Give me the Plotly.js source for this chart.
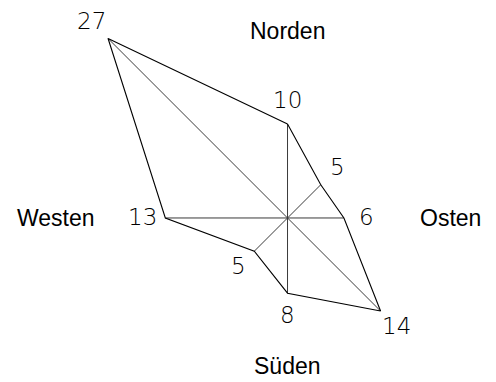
<!DOCTYPE html>
<html>
<head>
<meta charset="utf-8">
<script src="https://cdn.plot.ly/plotly-3.0.1.min.js"></script>
<style>
  html, body { margin: 0; padding: 0; background: #fff; }
  #myDiv { width: 496px; height: 382px; }
</style>
</head>
<body>
<div id="myDiv"></div>
<script>
// Wind directions, clockwise from north, and their counts
const directions = ['N', 'NO', 'O', 'SO', 'S', 'SW', 'W', 'NW'];
const angles = [0, 45, 90, 135, 180, 225, 270, 315];
const counts = [10, 5, 6, 14, 8, 5, 13, 27];

// Compass names drawn around the figure
const compassNames = ['Norden', 'Osten', 'Süden', 'Westen'];

// polar -> cartesian
const toXY = (r, deg) => {
    const a = deg * Math.PI / 180;
    return [r * Math.sin(a), r * Math.cos(a)];
};
const pts = counts.map((c, i) => toXY(c, angles[i]));

// spokes from the center to each point
const spokeX = [], spokeY = [];
pts.forEach(p => { spokeX.push(0, p[0], null); spokeY.push(0, p[1], null); });

const data = [
    {
        x: spokeX, y: spokeY,
        type: 'scatter', mode: 'lines',
        line: { color: '#3a3a3a', width: 1 },
        hoverinfo: 'skip'
    },
    {
        x: pts.map(p => p[0]).concat([pts[0][0]]),
        y: pts.map(p => p[1]).concat([pts[0][1]]),
        type: 'scatter', mode: 'lines',
        line: { color: '#000000', width: 1.1 },
        hoverinfo: 'skip'
    }
];

// value labels pushed outwards along each direction
const labelGap = 23;
const valueLabels = counts.map((c, i) => {
    const a = angles[i] * Math.PI / 180;
    return {
        x: pts[i][0], y: pts[i][1],
        text: String(c),
        showarrow: false,
        xanchor: 'center', yanchor: 'middle',
        xshift: labelGap * Math.sin(a),
        yshift: labelGap * Math.cos(a) + 1,
        font: { family: 'DejaVu Sans', weight: 200, size: 23, color: '#000' }
    };
});

const nameFont = { family: 'Liberation Sans, Arial, sans-serif', size: 23, color: '#000' };
const nameLabels = [
    { x: 0, xref: 'x', y: 0.92, yref: 'paper', text: compassNames[0] },
    { x: 0.908, xref: 'paper', y: 0, yref: 'y', text: compassNames[1] },
    { x: 0, xref: 'x', y: 0.042, yref: 'paper', text: compassNames[2] },
    { x: 0.113, xref: 'paper', y: 0, yref: 'y', text: compassNames[3] }
].map(a => Object.assign(a, { showarrow: false, xanchor: 'center', yanchor: 'middle', font: nameFont }));

const layout = {
    width: 496, height: 382,
    margin: { l: 0, r: 0, t: 0, b: 0 },
    paper_bgcolor: '#fff', plot_bgcolor: '#fff',
    showlegend: false,
    xaxis: { range: [-30.59, 22.18], visible: false, fixedrange: true },
    yaxis: { range: [-17.45, 23.19], visible: false, fixedrange: true },
    annotations: valueLabels.concat(nameLabels)
};

Plotly.newPlot('myDiv', data, layout, { displayModeBar: false, staticPlot: true });
</script>
</body>
</html>
